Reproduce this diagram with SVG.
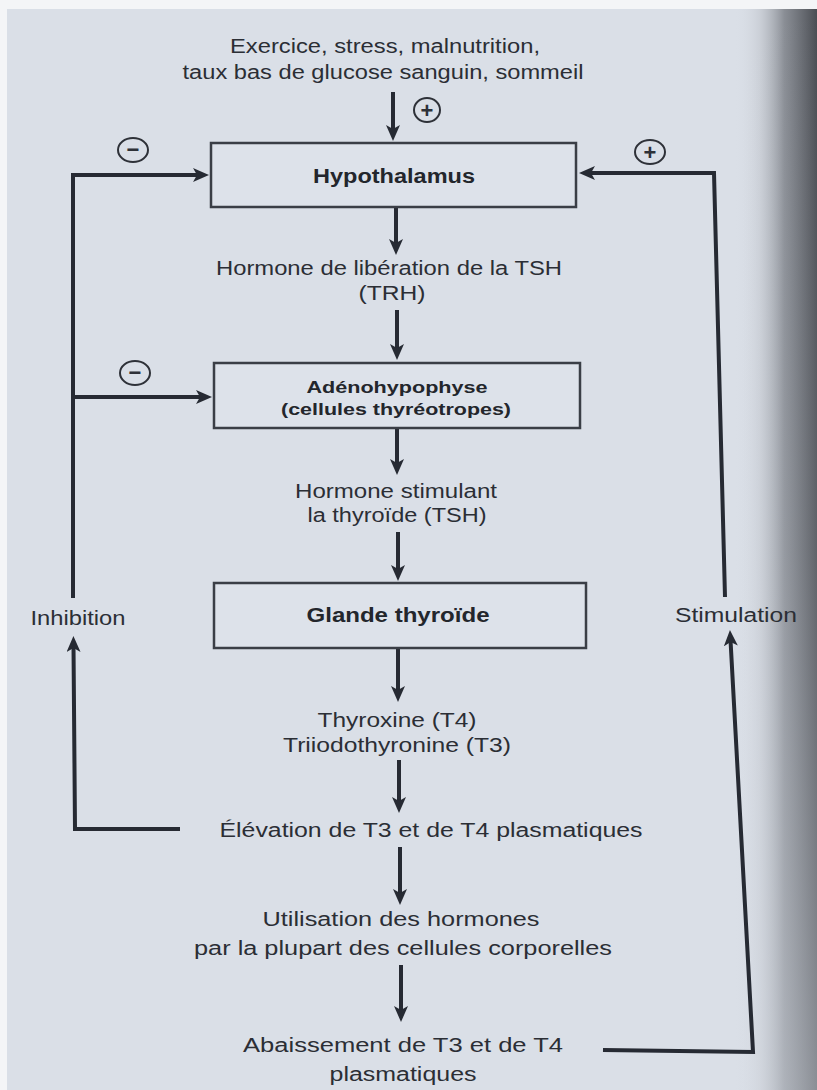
<svg xmlns="http://www.w3.org/2000/svg" width="817" height="1090" viewBox="0 0 817 1090">
<defs>
<linearGradient id="edge" x1="0" y1="0" x2="1" y2="0">
<stop offset="0" stop-color="#dadfe7" stop-opacity="0"/>
<stop offset="0.3" stop-color="#b9bdc4" stop-opacity="0.45"/>
<stop offset="0.6" stop-color="#7c8087" stop-opacity="0.85"/>
<stop offset="1" stop-color="#4a4d53" stop-opacity="1"/>
</linearGradient>
<linearGradient id="fade" x1="0" y1="0" x2="0" y2="1">
<stop offset="0" stop-color="#dadfe7" stop-opacity="0"/>
<stop offset="0.5" stop-color="#dadfe7" stop-opacity="0.15"/>
<stop offset="1" stop-color="#dadfe7" stop-opacity="0.45"/>
</linearGradient>
<marker id="ah" markerUnits="userSpaceOnUse" markerWidth="18" markerHeight="16" refX="6" refY="7" orient="auto">
<path d="M0,0 L16,7 L0,14 L4,7 z" fill="#262a33"/>
</marker>
<style>
.t{font-family:"Liberation Sans",Arial,sans-serif;font-size:20px;fill:#2b2e35;text-anchor:middle}
.b{font-weight:bold;fill:#23262c}
.box{fill:#dde2ea;stroke:#3a3e46;stroke-width:2.5}
.c{fill:none;stroke:#262a33;stroke-width:4;stroke-linejoin:miter}
.sym{fill:none;stroke:#2e3138;stroke-width:2}
.s{font-family:"Liberation Sans",Arial,sans-serif;font-size:22px;font-weight:bold;fill:#2e3138;text-anchor:middle}
</style>
</defs>
<rect x="0" y="0" width="817" height="1090" fill="#f4f5f7"/>
<rect x="7" y="9" width="810" height="1081" fill="#dadfe7"/>
<rect x="735" y="9" width="82" height="1081" fill="url(#edge)"/>
<rect x="735" y="9" width="82" height="1081" fill="url(#fade)"/>

<g id="connectors">
<path class="c" d="M393,92 L393,131" marker-end="url(#ah)"/>
<path class="c" d="M396,208 L396,245" marker-end="url(#ah)"/>
<path class="c" d="M397,310 L397,350" marker-end="url(#ah)"/>
<path class="c" d="M397,429 L397,465" marker-end="url(#ah)"/>
<path class="c" d="M398,532 L398,571" marker-end="url(#ah)"/>
<path class="c" d="M398,649 L398,692" marker-end="url(#ah)"/>
<path class="c" d="M399,760 L399,803" marker-end="url(#ah)"/>
<path class="c" d="M400,847 L400,895" marker-end="url(#ah)"/>
<path class="c" d="M401,965 L401,1012" marker-end="url(#ah)"/>
<path class="c" d="M73,598 L73,175 L199,175" marker-end="url(#ah)"/>
<path class="c" d="M73,397 L202,397" marker-end="url(#ah)"/>
<path class="c" d="M180,829 L75,829 L73.5,646" marker-end="url(#ah)"/>
<path class="c" d="M725,597 L714,173 L589,173" marker-end="url(#ah)"/>
<path class="c" d="M603,1050 L753,1052 L730.5,640" marker-end="url(#ah)"/>
</g>

<g id="signs">
<g id="sign-top-plus"><ellipse class="sym" cx="427" cy="110" rx="13" ry="12"/><text class="s" x="427" y="118">+</text></g>
<g id="sign-hypo-minus"><ellipse class="sym" cx="133" cy="150" rx="15" ry="12"/><text class="s" x="133" y="157">−</text></g>
<g id="sign-hypo-plus"><ellipse class="sym" cx="650" cy="152" rx="15" ry="12"/><text class="s" x="650" y="160">+</text></g>
<g id="sign-adeno-minus"><ellipse class="sym" cx="135" cy="373" rx="15" ry="12"/><text class="s" x="135" y="380">−</text></g>
</g>

<g id="stimuli">
<text class="t" x="385" y="53" textLength="310" lengthAdjust="spacingAndGlyphs">Exercice, stress, malnutrition,</text>
<text class="t" x="383" y="79" textLength="401" lengthAdjust="spacingAndGlyphs">taux bas de glucose sanguin, sommeil</text>
</g>

<g id="hypothalamus">
<rect class="box" x="211" y="143" width="365" height="64"/>
<text class="t b" x="394" y="183" textLength="162" lengthAdjust="spacingAndGlyphs">Hypothalamus</text>
</g>

<g id="trh">
<text class="t" x="389" y="275" textLength="346" lengthAdjust="spacingAndGlyphs">Hormone de libération de la TSH</text>
<text class="t" x="392" y="300" textLength="67" lengthAdjust="spacingAndGlyphs">(TRH)</text>
</g>

<g id="adenohypophyse">
<rect class="box" x="214" y="363" width="366" height="65"/>
<text class="t b" x="397" y="393" style="font-size:17px" textLength="181" lengthAdjust="spacingAndGlyphs">Adénohypophyse</text>
<text class="t b" x="396" y="415" style="font-size:17px" textLength="230" lengthAdjust="spacingAndGlyphs">(cellules thyréotropes)</text>
</g>

<g id="tsh">
<text class="t" x="396" y="498" textLength="202" lengthAdjust="spacingAndGlyphs">Hormone stimulant</text>
<text class="t" x="397" y="522" textLength="179" lengthAdjust="spacingAndGlyphs">la thyroïde (TSH)</text>
</g>

<g id="glande-thyroide">
<rect class="box" x="214" y="583" width="372" height="65"/>
<text class="t b" x="398" y="622" textLength="183" lengthAdjust="spacingAndGlyphs">Glande thyroïde</text>
</g>

<g id="inhibition">
<text class="t" x="78" y="625" textLength="95" lengthAdjust="spacingAndGlyphs">Inhibition</text>
</g>

<g id="stimulation">
<text class="t" x="736" y="622" textLength="122" lengthAdjust="spacingAndGlyphs">Stimulation</text>
</g>

<g id="t4-t3">
<text class="t" x="397" y="727" textLength="159" lengthAdjust="spacingAndGlyphs">Thyroxine (T4)</text>
<text class="t" x="397" y="752" textLength="228" lengthAdjust="spacingAndGlyphs">Triiodothyronine (T3)</text>
</g>

<g id="elevation">
<text class="t" x="431" y="837" textLength="423" lengthAdjust="spacingAndGlyphs">Élévation de T3 et de T4 plasmatiques</text>
</g>

<g id="utilisation">
<text class="t" x="401" y="926" textLength="277" lengthAdjust="spacingAndGlyphs">Utilisation des hormones</text>
<text class="t" x="403" y="955" textLength="418" lengthAdjust="spacingAndGlyphs">par la plupart des cellules corporelles</text>
</g>

<g id="abaissement">
<text class="t" x="403" y="1052" textLength="320" lengthAdjust="spacingAndGlyphs">Abaissement de T3 et de T4</text>
<text class="t" x="403" y="1081" textLength="147" lengthAdjust="spacingAndGlyphs">plasmatiques</text>
</g>
</svg>
